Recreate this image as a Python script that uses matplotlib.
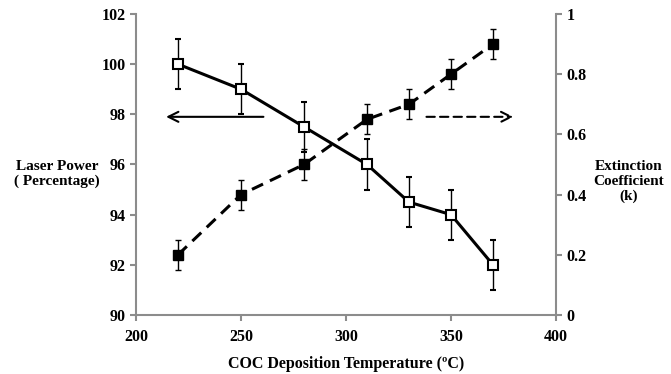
import matplotlib
matplotlib.use("Agg")
import matplotlib.pyplot as plt

temps = [220, 250, 280, 310, 330, 350, 370]
laser_power = [100, 99, 97.5, 96, 94.5, 94, 92]
laser_err = [1, 1, 1, 1, 1, 1, 1]
ext_coef = [0.2, 0.4, 0.5, 0.65, 0.7, 0.8, 0.9]
ext_err = [0.05, 0.05, 0.05, 0.05, 0.05, 0.05, 0.05]

x_ticks = [200, 250, 300, 350, 400]
y1_ticks = [90, 92, 94, 96, 98, 100, 102]
y2_ticks = [0, 0.2, 0.4, 0.6, 0.8, 1]
y2_labels = ["0", "0.2", "0.4", "0.6", "0.8", "1"]

plt.rcParams['font.family'] = ['Liberation Serif', 'DejaVu Serif']
plt.rcParams['font.weight'] = 'bold'

fig = plt.figure(figsize=(6.71, 3.74), dpi=100)
ax = fig.add_axes([0.2027, 0.1578, 0.6259, 0.8048])
ax2 = ax.twinx()

gray = '#8c8c8c'
for a in (ax, ax2):
    for s in a.spines.values():
        s.set_visible(False)
ax.spines['left'].set_visible(True)
ax.spines['bottom'].set_visible(True)
ax2.spines['right'].set_visible(True)
for sp in (ax.spines['left'], ax.spines['bottom'], ax2.spines['right']):
    sp.set_color(gray)
    sp.set_linewidth(1.5)

ax.errorbar(temps, laser_power, yerr=laser_err, color='black', lw=2.2,
            marker='s', ms=6.5, mfc='white', mec='black', mew=1.5,
            ecolor='black', elinewidth=1, capsize=2.5, capthick=1, zorder=3)
ax2.errorbar(temps, ext_coef, yerr=ext_err, color='black', lw=2.2, ls=(0, (4, 2.5)),
             marker='s', ms=6.5, mfc='black', mec='black',
             ecolor='black', elinewidth=1, capsize=2.5, capthick=1, zorder=3)

ax.set_xlim(200, 400)
ax.set_ylim(90, 102)
ax2.set_ylim(0, 1)
ax.set_xticks(x_ticks)
ax.set_yticks(y1_ticks)
ax2.set_yticks(y2_ticks)
ax2.set_yticklabels(y2_labels)

for a in (ax, ax2):
    a.tick_params(axis='both', colors=gray, labelcolor='black', labelsize=11.5,
                  length=4, width=1.5)
ax.tick_params(axis='x', pad=6)
for lbl in ax.get_xticklabels() + ax.get_yticklabels() + ax2.get_yticklabels():
    lbl.set_fontweight('bold')

# arrows
ax.annotate('', xy=(213, 97.9), xytext=(262, 97.9),
            arrowprops=dict(arrowstyle='->', color='black', lw=1.5, mutation_scale=18))
ax.annotate('', xy=(381, 97.9), xytext=(337, 97.9),
            arrowprops=dict(arrowstyle='->', color='black', lw=1.5, ls=(0, (4, 2.5)),
                            mutation_scale=18))

ax.set_xlabel('COC Deposition Temperature (ºC)', fontsize=11.5, fontweight='bold', labelpad=8)
fig.text(0.085, 0.535, 'Laser Power\n( Percentage)', ha='center', va='center',
         fontsize=11, fontweight='bold', linespacing=1.2)
fig.text(0.937, 0.515, 'Extinction\nCoefficient\n(k)', ha='center', va='center',
         fontsize=11, fontweight='bold', linespacing=1.2)

fig.savefig('out.png', dpi=100)
